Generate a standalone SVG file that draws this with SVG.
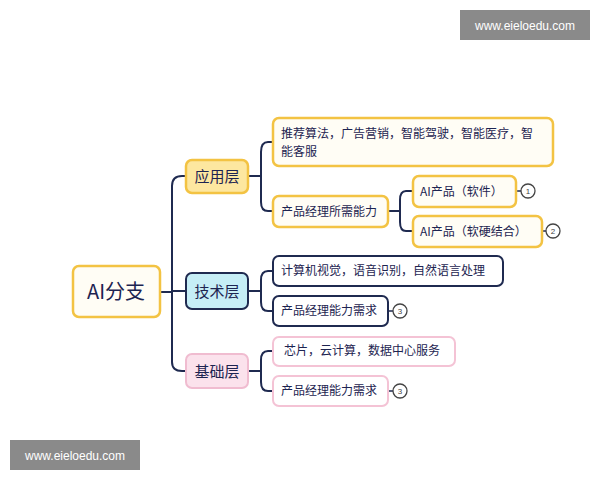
<svg xmlns="http://www.w3.org/2000/svg" width="600" height="480" viewBox="0 0 600 480">
<style>
text{font-family:"Noto Sans CJK SC","Liberation Sans",sans-serif;fill:#1d2451}
.t{font-size:12px}
.y{fill:#fffdf5;stroke:#f3c343;stroke-width:2.5}
.yf{fill:#fde7a0;stroke:#f3c343;stroke-width:2.5}
.b{fill:#fff;stroke:#1f2a50;stroke-width:2}
.bf{fill:#c6eef6;stroke:#1f2a50;stroke-width:2}
.p{fill:#fff;stroke:#f4c3d5;stroke-width:2}
.pf{fill:#fbe2ec;stroke:#f0bcd0;stroke-width:2}
.c{fill:none;stroke:#1f2a50;stroke-width:2}
.n{fill:#fff;stroke:#444;stroke-width:1.3}
.nt{font-size:8px;fill:#444;font-family:"Liberation Sans",sans-serif}
</style>
<rect width="600" height="480" fill="#fff"/>
<g id="connectors" class="c">
<path d="M160 292H172M172 186Q172 176 182 176H186M172 186V362Q172 371 182 371H186M172 291H186"/>
<path d="M248 176H261M261 152Q261 142 268 142H273M261 152V202Q261 211 268 211H273"/>
<path d="M388 211H400M400 200Q400 191 406 191H413M400 200V222Q400 231 406 231H413"/>
<path d="M248 291H261M261 280Q261 271 268 271H273M261 280V302Q261 311 268 311H273"/>
<path d="M248 371H261M261 360Q261 351 268 351H273M261 360V382Q261 391 268 391H273"/>
<path d="M516 191H521M542 231H546M388 311H393M388 391H393" stroke-width="1.3"/>
</g>
<g id="root"><rect class="y" x="73" y="266" width="87" height="51" rx="6"/><text x="116" y="299" font-size="20" text-anchor="middle">AI分支</text></g>
<g id="app"><rect class="yf" x="186" y="160" width="62" height="33" rx="6"/><text x="217" y="182" font-size="15" text-anchor="middle">应用层</text></g>
<g id="tech"><rect class="bf" x="186" y="273" width="62" height="36" rx="6"/><text x="217" y="297" font-size="15" text-anchor="middle">技术层</text></g>
<g id="base"><rect class="pf" x="186" y="354" width="62" height="34" rx="6"/><text x="217" y="377" font-size="15" text-anchor="middle">基础层</text></g>
<g id="app1"><rect class="y" x="273" y="118" width="280" height="48" rx="6"/><text class="t" x="281" y="138">推荐算法，广告营销，智能驾驶，智能医疗，智</text><text class="t" x="281" y="156">能客服</text></g>
<g id="app2"><rect class="y" x="273" y="196" width="115" height="31" rx="6"/><text class="t" x="281" y="216">产品经理所需能力</text></g>
<g id="ai1"><rect class="y" x="413" y="176" width="103" height="31" rx="6"/><text class="t" x="420" y="196">AI产品（软件）</text></g>
<g id="ai2"><rect class="y" x="413" y="216" width="129" height="31" rx="6"/><text class="t" x="420" y="236">AI产品（软硬结合）</text></g>
<g id="n1"><circle class="n" cx="528" cy="191" r="7"/><text class="nt" x="528" y="194" text-anchor="middle">1</text></g>
<g id="n2"><circle class="n" cx="553" cy="231" r="7"/><text class="nt" x="553" y="234" text-anchor="middle">2</text></g>
<g id="tech1"><rect class="b" x="273" y="256" width="230" height="30" rx="6"/><text class="t" x="281" y="275">计算机视觉，语音识别，自然语言处理</text></g>
<g id="tech2"><rect class="b" x="273" y="296" width="115" height="30" rx="6"/><text class="t" x="281" y="315">产品经理能力需求</text></g>
<g id="n3a"><circle class="n" cx="400" cy="311" r="7"/><text class="nt" x="400" y="314" text-anchor="middle">3</text></g>
<g id="base1"><rect class="p" x="273" y="337" width="182" height="29" rx="6"/><text class="t" x="284" y="355">芯片，云计算，数据中心服务</text></g>
<g id="base2"><rect class="p" x="273" y="376" width="115" height="30" rx="6"/><text class="t" x="281" y="395">产品经理能力需求</text></g>
<g id="n3b"><circle class="n" cx="400" cy="391" r="7"/><text class="nt" x="400" y="394" text-anchor="middle">3</text></g>
<g id="wm1"><rect x="460" y="10" width="130" height="30" fill="#8a8a8a"/><text x="525" y="30" font-size="12" text-anchor="middle" style="fill:#fff;font-family:'Liberation Sans',sans-serif">www.eieloedu.com</text></g>
<g id="wm2"><rect x="10" y="440" width="130" height="30" fill="#8a8a8a"/><text x="75" y="460" font-size="12" text-anchor="middle" style="fill:#fff;font-family:'Liberation Sans',sans-serif">www.eieloedu.com</text></g>
</svg>
